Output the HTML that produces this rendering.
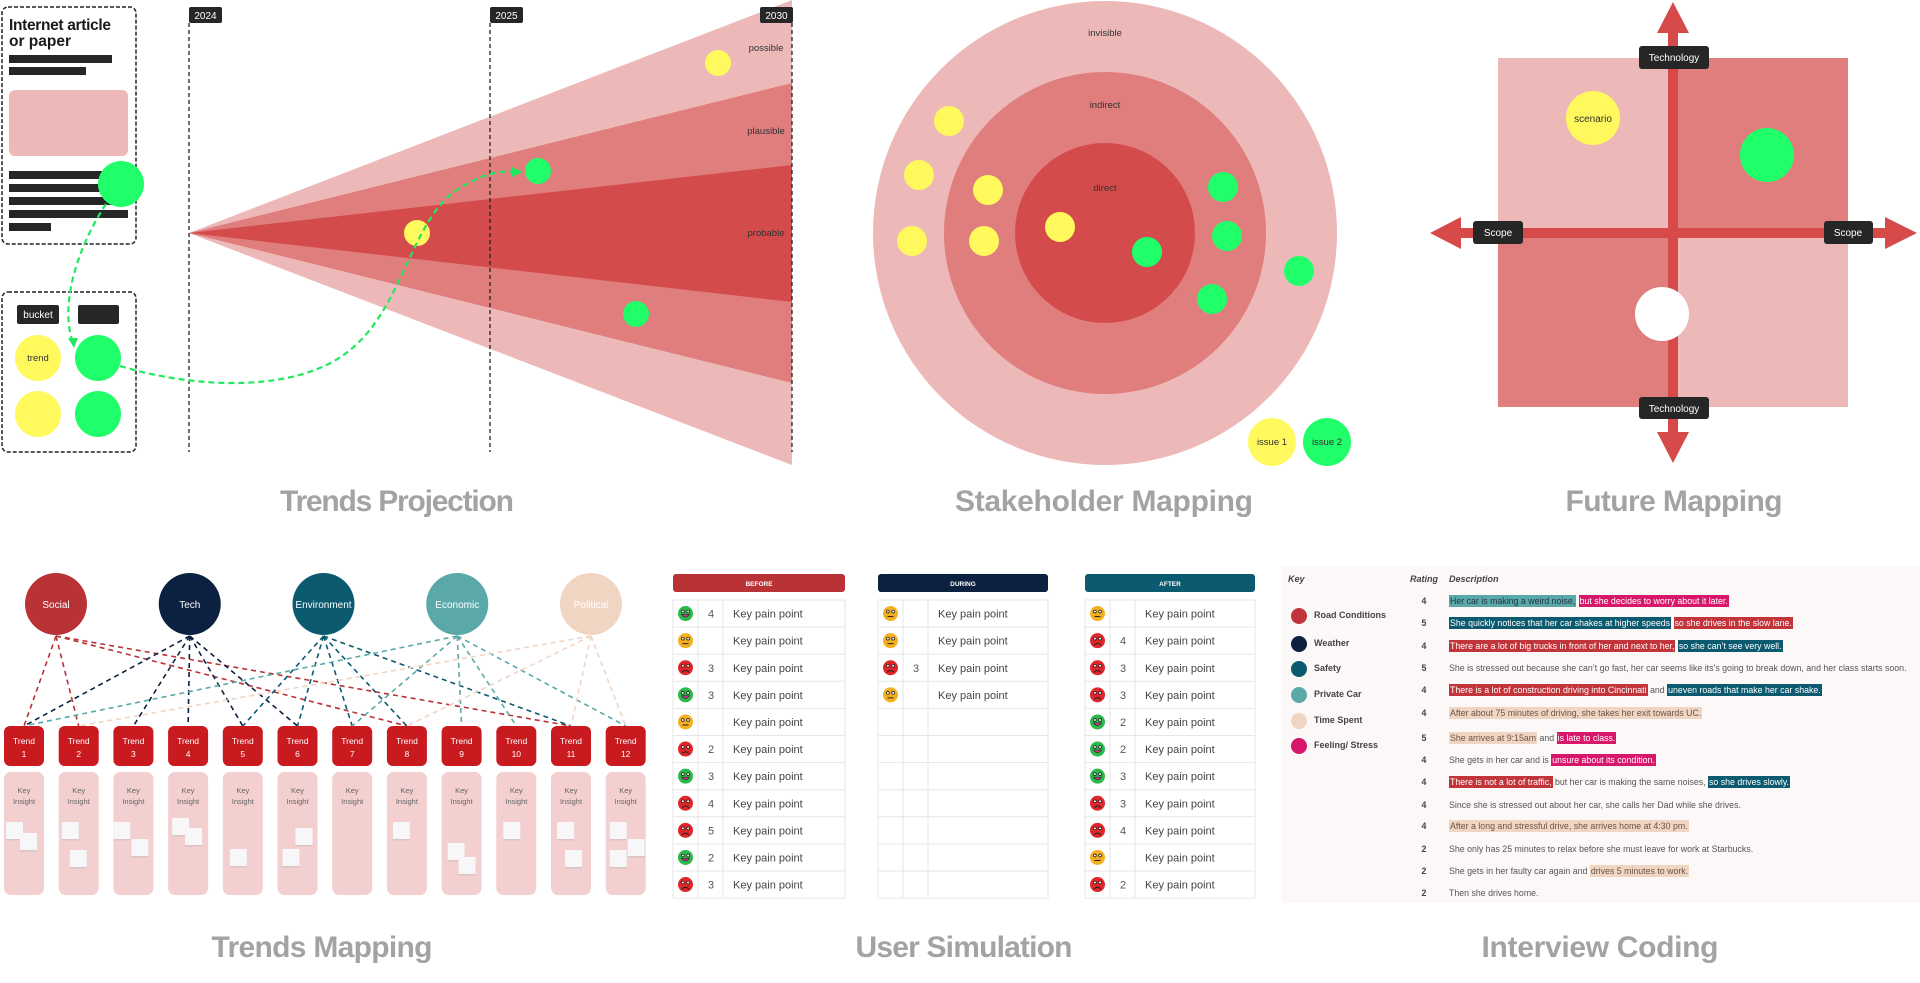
<!DOCTYPE html>
<html><head><meta charset="utf-8">
<style>
html,body{margin:0;padding:0;background:#fff;}
body{width:1920px;height:983px;position:relative;overflow:hidden;font-family:"Liberation Sans",sans-serif;}
svg{position:absolute;left:0;top:0;}
#ic{position:absolute;left:1281px;top:566px;width:639px;height:337px;background:#fbf8f7;}
.ic-row{position:absolute;left:0;height:14px;line-height:14px;font-size:8.8px;color:#555;white-space:nowrap;}
.rt{position:absolute;left:136px;width:14px;text-align:center;font-weight:bold;color:#444;}
.ds{position:absolute;left:168px;}
.hl{padding:1px 1px;}
.road{background:#c0343a;color:#fff}.safety{background:#0b5a70;color:#fff}.car{background:#5aa9a8;color:#234}
.time{background:#f0d5c3;color:#6a5548}.feel{background:#d6176a;color:#fff}
.lg{position:absolute;left:10px;font-size:9px;font-weight:bold;color:#444;height:16px;line-height:16px;}
.lg i{display:inline-block;width:16px;height:16px;border-radius:50%;vertical-align:middle;margin-right:7px;}
.hd{position:absolute;top:8px;font-size:9px;font-style:italic;font-weight:bold;color:#444;}
</style></head>
<body>
<svg id="s" width="1920" height="983" viewBox="0 0 1920 983" xmlns="http://www.w3.org/2000/svg">
<g>
<rect x="2" y="7" width="134" height="237" rx="6" fill="none" stroke="#222" stroke-width="1.5" stroke-dasharray="4,2"/>
<text x="9" y="30" font-size="15.5" font-weight="bold" fill="#1a1a1a" textLength="102">Internet article</text>
<text x="9" y="46" font-size="15.5" font-weight="bold" fill="#1a1a1a">or paper</text>
<rect x="9" y="55" width="103" height="8" fill="#262626"/>
<rect x="9" y="67" width="77" height="8" fill="#262626"/>
<rect x="9" y="90" width="119" height="66" rx="6" fill="#edb8b8"/>
<rect x="9" y="171" width="110" height="8" fill="#262626"/>
<rect x="9" y="184" width="110" height="8" fill="#262626"/>
<rect x="9" y="197" width="110" height="8" fill="#262626"/>
<rect x="9" y="210" width="119" height="8" fill="#262626"/>
<rect x="9" y="223" width="42" height="8" fill="#262626"/>
<circle cx="121" cy="184" r="23" fill="#20ff6a"/>
<rect x="2" y="292" width="134" height="160" rx="6" fill="none" stroke="#222" stroke-width="1.5" stroke-dasharray="4,2"/>
<rect x="17" y="305" width="42" height="19" rx="2" fill="#262626"/>
<text x="38" y="318" font-size="10" fill="#fff" text-anchor="middle">bucket</text>
<rect x="78" y="305" width="41" height="19" rx="2" fill="#262626"/>
<circle cx="38" cy="358" r="23" fill="#fff95e"/>
<text x="38" y="361" font-size="9.5" fill="#333" text-anchor="middle">trend</text>
<circle cx="98" cy="358" r="23" fill="#20ff6a"/>
<circle cx="38" cy="414" r="23" fill="#fff95e"/>
<circle cx="98" cy="414" r="23" fill="#20ff6a"/>
<polygon points="189,233 792,0 792,465" fill="#edb8b8"/>
<polygon points="189,233 792,83 792,383" fill="#e07d7d"/>
<polygon points="189,233 792,165 792,302" fill="#d44b4b"/>
<text x="766" y="51" font-size="9.5" fill="#333" text-anchor="middle">possible</text>
<text x="766" y="134" font-size="9.5" fill="#333" text-anchor="middle">plausible</text>
<text x="766" y="236" font-size="9.5" fill="#333" text-anchor="middle">probable</text>
<g id="years"></g>
<g id="projdots"></g>
<path d="M106,204 C82,240 58,300 73,343" fill="none" stroke="#20e860" stroke-width="2.2" stroke-dasharray="6,4"/>
<polygon points="68,338 78,338 74,348" fill="#20e860"/>
<path d="M120,366 C200,390 300,392 350,350 C400,310 410,230 450,195 C480,172 505,170 515,172" fill="none" stroke="#20e860" stroke-width="2.2" stroke-dasharray="6,4"/>
<polygon points="512,167 523,172 512,177" fill="#20e860"/>
<text x="397" y="511" font-size="30" font-weight="bold" fill="#a3a3a3" text-anchor="middle" textLength="234">Trends Projection</text>
</g>
<g>
<circle cx="1105" cy="233" r="232" fill="#edb8b8"/>
<circle cx="1105" cy="233" r="161" fill="#e07d7d"/>
<circle cx="1105" cy="233" r="90" fill="#d44b4b"/>
<text x="1105" y="36" font-size="9.5" fill="#333" text-anchor="middle">invisible</text>
<text x="1105" y="108" font-size="9.5" fill="#333" text-anchor="middle">indirect</text>
<text x="1105" y="191" font-size="9.5" fill="#333" text-anchor="middle">direct</text>
<g id="stake"></g>
<circle cx="1272" cy="442" r="24" fill="#fff95e"/>
<text x="1272" y="445" font-size="9.5" fill="#333" text-anchor="middle">issue 1</text>
<circle cx="1327" cy="442" r="24" fill="#20ff6a"/>
<text x="1327" y="445" font-size="9.5" fill="#333" text-anchor="middle">issue 2</text>
<text x="1104" y="511" font-size="30" font-weight="bold" fill="#a3a3a3" text-anchor="middle" textLength="298">Stakeholder Mapping</text>
</g>
<g>
<rect x="1498" y="58" width="175" height="175" fill="#edb8b8"/>
<rect x="1673" y="58" width="175" height="175" fill="#e07d7d"/>
<rect x="1498" y="233" width="175" height="174" fill="#e07d7d"/>
<rect x="1673" y="233" width="175" height="174" fill="#edb8b8"/>
<rect x="1668" y="30" width="10" height="406" fill="#d64a4a"/>
<rect x="1458" y="228" width="430" height="10" fill="#d64a4a"/>
<polygon points="1673,2 1689,33 1657,33" fill="#d64a4a"/>
<polygon points="1673,463 1689,432 1657,432" fill="#d64a4a"/>
<polygon points="1430,233 1461,217 1461,249" fill="#d64a4a"/>
<polygon points="1917,233 1885,217 1885,249" fill="#d64a4a"/>
<circle cx="1593" cy="118" r="27" fill="#fff95e"/>
<text x="1593" y="122" font-size="10" fill="#333" text-anchor="middle">scenario</text>
<circle cx="1767" cy="155" r="27" fill="#20ff6a"/>
<circle cx="1662" cy="314" r="27" fill="#fff"/>
<rect x="1639" y="46" width="70" height="23" rx="3" fill="#262626"/>
<text x="1674" y="61" font-size="10" fill="#fff" text-anchor="middle">Technology</text>
<rect x="1639" y="397" width="70" height="22" rx="3" fill="#262626"/>
<text x="1674" y="412" font-size="10" fill="#fff" text-anchor="middle">Technology</text>
<rect x="1473" y="221" width="50" height="23" rx="3" fill="#262626"/>
<text x="1498" y="236" font-size="10" fill="#fff" text-anchor="middle">Scope</text>
<rect x="1824" y="221" width="49" height="23" rx="3" fill="#262626"/>
<text x="1848" y="236" font-size="10" fill="#fff" text-anchor="middle">Scope</text>
<text x="1674" y="511" font-size="30" font-weight="bold" fill="#a3a3a3" text-anchor="middle" textLength="217">Future Mapping</text>
</g>
<g id="tm"></g>
<text x="322" y="957" font-size="30" font-weight="bold" fill="#a3a3a3" text-anchor="middle" textLength="221">Trends Mapping</text>
<g id="us"></g>
<text x="964" y="957" font-size="30" font-weight="bold" fill="#a3a3a3" text-anchor="middle" textLength="217">User Simulation</text>
<text x="1600" y="957" font-size="30" font-weight="bold" fill="#a3a3a3" text-anchor="middle" textLength="237">Interview Coding</text>
</svg>

<div id="ic">
<div class="hd" style="left:7px;">Key</div>
<div class="hd" style="left:129px;">Rating</div>
<div class="hd" style="left:168px;">Description</div>
<div id="legend"></div>
<div id="rows"></div>
</div>

<script>
const NS='http://www.w3.org/2000/svg';
const years=['2024','2025','2030'];
const yearX=[189,490,792];
const projDotColors=['y','g','y','g'];
const projDotX=[718,538,417,636];
const projDotY=[63,171,233,314];
const stakeYellowX=[949,919,988,912,984,1060];
const stakeYellowY=[121,175,190,241,241,227];
const stakeGreenX=[1223,1227,1147,1212,1299];
const stakeGreenY=[187,236,252,299,271];
const trendCats=['Social','Tech','Environment','Economic','Political'];
const trendCatColors=['#b83236','#0b213f','#0b5a70','#5aa9a8','#f0d5c3'];
const trendLinks=[[1,2,8,11],[1,3,4,5,6],[5,6,7,8,11],[1,7,9,10,12],[2,8,11,12]];
const trendCount=12;
const noteCol=[1,1,2,2,3,3,4,4,5,6,6,8,9,9,10,11,11,12,12,12];
const noteDx=[2,16,3,11,0,18,4,17,7,18,5,6,6,17,7,6,14,4,22,4];
const noteY=[822,833,822,850,822,839,818,828,849,828,849,822,843,857,822,822,850,822,839,850];
const simPhases=['BEFORE','DURING','AFTER'];
const simBefore=[['g',4],['y',''],['r',3],['g',3],['y',''],['r',2],['g',3],['r',4],['r',5],['g',2],['r',3]];
const simDuring=[['y',''],['y',''],['r',3],['y',''],['',''],['',''],['',''],['',''],['',''],['',''],['','']];
const simAfter=[['y',''],['r',4],['r',3],['r',3],['g',2],['g',2],['g',3],['r',3],['r',4],['y',''],['r',2]];
const legendNames=['Road Conditions','Weather','Safety','Private Car','Time Spent','Feeling/ Stress'];
const legendColors=['#c0343a','#0b213f','#0b5a70','#5aa9a8','#f0d5c3','#d6176a'];
const ratings=[4,5,4,5,4,4,5,4,4,4,4,2,2,2];
const descs=[
 [['car','Her car is making a weird noise,'],['',' '],['feel','but she decides to worry about it later.']],
 [['safety','She quickly notices that her car shakes at higher speeds'],['',' '],['road','so she drives in the slow lane.']],
 [['road','There are a lot of big trucks in front of her and next to her,'],['',' '],['safety','so she can\u2019t see very well.']],
 [['','She is stressed out because she can\u2019t go fast, her car seems like its\u2019s going to break down, and her class starts soon.']],
 [['road','There is a lot of construction driving into Cincinnati'],['','  and '],['safety','uneven roads that make her car shake.']],
 [['time','After about 75 minutes of driving, she takes her exit towards UC.']],
 [['time','She arrives at 9:15am'],['',' and '],['feel','is late to class.']],
 [['','She gets in her car and is '],['feel','unsure about its condition.']],
 [['road','There is not a lot of traffic,'],['',' but her car is making the same noises, '],['safety','so she drives slowly.']],
 [['','Since she is stressed out about her car, she calls her Dad while she drives.']],
 [['time','After a long and stressful drive, she arrives home at 4:30 pm.']],
 [['','She only has 25 minutes to relax before she must leave for work at Starbucks.']],
 [['','She gets in her faulty car again and '],['time','drives 5 minutes to work.']],
 [['','Then she drives home.']]
];
const rowY=[601,623,646,668,690,713,738,760,782,805,826,849,871,893];

function mk(tag,attrs,parent){const e=document.createElementNS(NS,tag);for(const k in attrs)e.setAttribute(k,attrs[k]);parent.appendChild(e);return e;}
const dotFill={y:'#fff95e',g:'#20ff6a'};

const yg=document.getElementById('years');
years.forEach((y,i)=>{
 const x=yearX[i];
 const l=mk('line',{x1:x,y1:23,x2:x,y2:452,stroke:'#222','stroke-width':1.3,'stroke-dasharray':'4,3'},yg);
 
 
 const bx=i===2?x-32:x;
 const r=mk('rect',{x:bx,y:7,width:33,height:16,rx:2,fill:'#262626'},yg);
 
 
 const t=mk('text',{x:bx+16.5,y:19,'font-size':10,fill:'#fff','text-anchor':'middle'},yg);t.textContent=y;
});
const pd=document.getElementById('projdots');
projDotX.forEach((x,i)=>{
 const c=mk('circle',{cx:x,cy:projDotY[i],r:13,fill:dotFill[projDotColors[i]]},pd);
 
 
});
const sg=document.getElementById('stake');
stakeYellowX.forEach((x,i)=>{const c=mk('circle',{cx:x,cy:stakeYellowY[i],r:15,fill:'#fff95e'},sg);
 
 });
stakeGreenX.forEach((x,i)=>{const c=mk('circle',{cx:x,cy:stakeGreenY[i],r:15,fill:'#20ff6a'},sg);
 
 });

const tm=document.getElementById('tm');
const catX=i=>56+i*133.75, trendX=j=>24+(j-1)*54.7;
for(let j=1;j<=trendCount;j++){
 const x=trendX(j);
 const col=mk('rect',{x:x-20,y:772,width:40,height:123,rx:7,fill:'#f3cfcf'},tm);
 
 
 const t1=mk('text',{x:x,y:793,'font-size':7.5,fill:'#666','text-anchor':'middle'},tm);t1.textContent='Key';
 const t2=mk('text',{x:x,y:804,'font-size':7.5,fill:'#666','text-anchor':'middle'},tm);t2.textContent='Insight';
}
noteCol.forEach((c,i)=>{
 const x=trendX(c)-20+noteDx[i];
 mk('rect',{x:x,y:noteY[i]+1.5,width:17,height:17,fill:'#d9c3c3'},tm);
 const n=mk('rect',{x:x,y:noteY[i],width:17,height:17,fill:'#f7f7f9'},tm);
 
 
});
trendLinks.forEach((ls,i)=>{
 ls.forEach(j=>{
  const l=mk('line',{x1:catX(i),y1:636,x2:trendX(j),y2:726,stroke:trendCatColors[i],'stroke-width':1.6,'stroke-dasharray':'5,4'},tm);
  
  
 });
});
trendCats.forEach((c,i)=>{
 const e=mk('circle',{cx:catX(i),cy:604,r:31,fill:trendCatColors[i]},tm);
 
 
 const t=mk('text',{x:catX(i),y:608,'font-size':10,fill:'#fff','text-anchor':'middle'},tm);t.textContent=c;
});
for(let j=1;j<=trendCount;j++){
 const x=trendX(j);
 const b=mk('rect',{x:x-20,y:726,width:40,height:40,rx:6,fill:'#c81a1f'},tm);
 
 
 const t1=mk('text',{x:x,y:744,'font-size':8.5,fill:'#fff','text-anchor':'middle'},tm);t1.textContent='Trend';
 const t2=mk('text',{x:x,y:757,'font-size':8.5,fill:'#fff','text-anchor':'middle'},tm);t2.textContent=String(j);
}

const us=document.getElementById('us');
const tblX=[673,878,1085], tblW=[172,170,170], hdrCol=['#b83236','#0b213f','#0b5a70'];
const sims=[simBefore,simDuring,simAfter];
const rowH=27.1, top0=600;
function face(g,cx,cy,k){
 const col={g:'#2db84a',y:'#f5b021',r:'#e0262b'}[k];
 mk('circle',{cx:cx,cy:cy,r:7.5,fill:col},g);
 mk('circle',{cx:cx-2.6,cy:cy-2,r:1.4,fill:'#fff',stroke:'#222','stroke-width':0.8},g);
 mk('circle',{cx:cx+2.6,cy:cy-2,r:1.4,fill:'#fff',stroke:'#222','stroke-width':0.8},g);
 if(k==='g')mk('path',{d:`M${cx-4},${cy+1} Q${cx},${cy+6} ${cx+4},${cy+1} Z`,fill:'#e0309a',stroke:'#222','stroke-width':0.6},g);
 else if(k==='y')mk('line',{x1:cx-3,y1:cy+3,x2:cx+3,y2:cy+3,stroke:'#222','stroke-width':1},g);
 else mk('path',{d:`M${cx-3.5},${cy+4.5} Q${cx},${cy+1} ${cx+3.5},${cy+4.5}`,fill:'none',stroke:'#222','stroke-width':1},g);
}
simPhases.forEach((p,i)=>{
 const x=tblX[i],w=tblW[i];
 const h=mk('rect',{x:x,y:574,width:w,height:18,rx:3,fill:hdrCol[i]},us);
 
 
 const t=mk('text',{x:x+w/2,y:586,'font-size':6.5,'font-weight':'bold',fill:'#fff','text-anchor':'middle'},us);t.textContent=p;
 const rows=sims[i];
 mk('rect',{x:x,y:top0,width:w,height:rowH*rows.length,fill:'#fff',stroke:'#e6e6e6','stroke-width':1},us);
 mk('line',{x1:x+25,y1:top0,x2:x+25,y2:top0+rowH*rows.length,stroke:'#e6e6e6'},us);
 mk('line',{x1:x+50,y1:top0,x2:x+50,y2:top0+rowH*rows.length,stroke:'#e6e6e6'},us);
 rows.forEach((r,k)=>{
  const y=top0+k*rowH;
  if(k>0)mk('line',{x1:x,y1:y,x2:x+w,y2:y,stroke:'#e6e6e6'},us);
  const g=mk('g',{},us);
  
  
  if(r[0]){
   face(g,x+12.5,y+rowH/2,r[0]);
   if(r[1]!==''){const n=mk('text',{x:x+38,y:y+rowH/2+4,'font-size':11,fill:'#555','text-anchor':'middle'},g);n.textContent=r[1];}
   const tt=mk('text',{x:x+60,y:y+rowH/2+4,'font-size':11,fill:'#444'},g);tt.textContent='Key pain point';
  }
 });
});

const lg=document.getElementById('legend');
legendNames.forEach((n,i)=>{
 const d=document.createElement('div');d.className='lg';d.style.top=(615+[0,28,53,79,105,130][i]-566-8)+'px';
 
 
 d.innerHTML='<i style="background:'+legendColors[i]+'"></i>'+n;lg.appendChild(d);
});
const rw=document.getElementById('rows');
ratings.forEach((r,i)=>{
 const d=document.createElement('div');d.className='ic-row';d.style.top=(rowY[i]-566-7)+'px';
 
 
 let h='<span class="rt">'+r+'</span><span class="ds">';
 descs[i].forEach(s=>{h+=s[0]?'<span class="hl '+s[0]+'">'+s[1]+'</span>':s[1].replace(/ /g,' ');});
 d.innerHTML=h+'</span>';rw.appendChild(d);
});
</script>
</body></html>
